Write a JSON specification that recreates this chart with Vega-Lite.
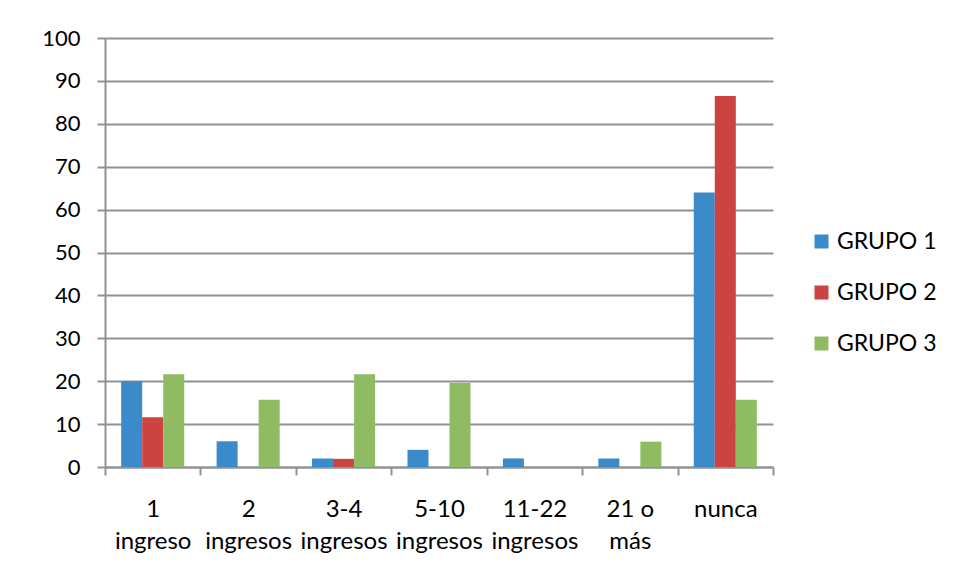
{
  "$schema": "https://vega.github.io/schema/vega-lite/v6.json",
  "autosize": {"type": "none"},
  "width": 668,
  "height": 429,
  "padding": {"left": 105, "top": 38, "right": 181, "bottom": 113},
  "background": "white",
  "data": {
    "values": [
      {"cat": "1 ingreso", "grupo": "GRUPO 1", "v": 20},
      {"cat": "1 ingreso", "grupo": "GRUPO 2", "v": 11.6},
      {"cat": "1 ingreso", "grupo": "GRUPO 3", "v": 21.6},
      {"cat": "2 ingresos", "grupo": "GRUPO 1", "v": 6},
      {"cat": "2 ingresos", "grupo": "GRUPO 2", "v": 0},
      {"cat": "2 ingresos", "grupo": "GRUPO 3", "v": 15.7},
      {"cat": "3-4 ingresos", "grupo": "GRUPO 1", "v": 2},
      {"cat": "3-4 ingresos", "grupo": "GRUPO 2", "v": 1.9},
      {"cat": "3-4 ingresos", "grupo": "GRUPO 3", "v": 21.6},
      {"cat": "5-10 ingresos", "grupo": "GRUPO 1", "v": 4},
      {"cat": "5-10 ingresos", "grupo": "GRUPO 2", "v": 0},
      {"cat": "5-10 ingresos", "grupo": "GRUPO 3", "v": 19.6},
      {"cat": "11-22 ingresos", "grupo": "GRUPO 1", "v": 2},
      {"cat": "11-22 ingresos", "grupo": "GRUPO 2", "v": 0},
      {"cat": "11-22 ingresos", "grupo": "GRUPO 3", "v": 0},
      {"cat": "21 o más", "grupo": "GRUPO 1", "v": 2},
      {"cat": "21 o más", "grupo": "GRUPO 2", "v": 0},
      {"cat": "21 o más", "grupo": "GRUPO 3", "v": 5.9},
      {"cat": "nunca", "grupo": "GRUPO 1", "v": 64},
      {"cat": "nunca", "grupo": "GRUPO 2", "v": 86.5},
      {"cat": "nunca", "grupo": "GRUPO 3", "v": 15.7}
    ]
  },
  "mark": {"type": "bar"},
  "encoding": {
    "x": {
      "field": "cat",
      "type": "nominal",
      "sort": ["1 ingreso", "2 ingresos", "3-4 ingresos", "5-10 ingresos", "11-22 ingresos", "21 o más", "nunca"],
      "scale": {"paddingInner": 0, "paddingOuter": 0},
      "axis": {
        "title": null,
        "labelAngle": 0,
        "labelExpr": "datum.label == '21 o más' ? ['21 o', 'más'] : split(datum.label, ' ')",
        "labelBaseline": "top",
        "labelLineHeight": 32,
        "labelPadding": 22,
        "tickBand": "extent",
        "tickSize": 8,
        "tickColor": "#8e9398",
        "tickWidth": 2,
        "domainColor": "#8e9398",
        "domainWidth": 2,
        "grid": false,
        "labelFont": "Lato",
        "labelFontSize": 24,
        "labelColor": "#000000"
      }
    },
    "xOffset": {
      "field": "grupo",
      "type": "nominal",
      "scale": {"paddingInner": 0, "paddingOuter": 0.77}
    },
    "y": {
      "field": "v",
      "type": "quantitative",
      "scale": {"domain": [0, 100], "nice": false},
      "axis": {
        "title": null,
        "values": [0, 10, 20, 30, 40, 50, 60, 70, 80, 90, 100],
        "grid": true,
        "gridColor": "#8e9398",
        "gridWidth": 2,
        "tickSize": 8,
        "tickColor": "#8e9398",
        "tickWidth": 2,
        "domainColor": "#8e9398",
        "domainWidth": 2,
        "labelPadding": 17,
        "labelFont": "Lato",
        "labelFontSize": 22,
        "labelColor": "#000000"
      }
    },
    "color": {
      "field": "grupo",
      "type": "nominal",
      "scale": {"domain": ["GRUPO 1", "GRUPO 2", "GRUPO 3"], "range": ["#3b8bcb", "#cc4441", "#8fbc63"]},
      "legend": {
        "title": null,
        "orient": "none",
        "legendX": 705,
        "legendY": 192,
        "padding": 0,
        "symbolType": "square",
        "symbolSize": 196,
        "symbolStrokeWidth": 0,
        "labelOffset": 4,
        "rowPadding": 27,
        "labelFont": "Lato",
        "labelFontSize": 23,
        "labelColor": "#000000"
      }
    }
  },
  "config": {"view": {"stroke": null}}
}
